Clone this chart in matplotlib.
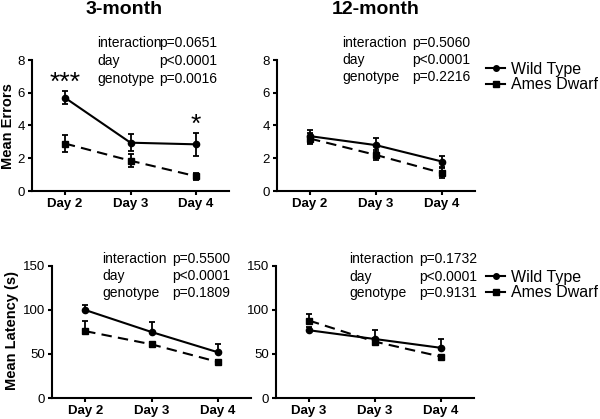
import matplotlib
matplotlib.use("Agg")
import matplotlib.pyplot as plt
from matplotlib.lines import Line2D

plt.rcParams['font.family'] = ['Liberation Sans', 'DejaVu Sans']

# ---------------- data ----------------
err_days = ["Day 2", "Day 3", "Day 4"]
lat_days_3m = ["Day 2", "Day 3", "Day 4"]
lat_days_12m = ["Day 3", "Day 3", "Day 4"]

err3_wt = [5.7, 2.95, 2.85]
err3_wt_sem = [0.4, 0.52, 0.7]
err3_ad = [2.9, 1.85, 0.9]
err3_ad_sem = [0.53, 0.4, 0.2]

err12_wt = [3.35, 2.8, 1.8]
err12_wt_sem = [0.4, 0.42, 0.35]
err12_ad = [3.2, 2.2, 1.1]
err12_ad_sem = [0.35, 0.33, 0.3]

lat3_wt = [100, 75, 52]
lat3_wt_sem = [6, 11, 9]
lat3_ad = [76, 61, 41]
lat3_ad_sem = [11, 3, 2]

lat12_wt = [77, 67, 57]
lat12_wt_sem = [4, 10, 10]
lat12_ad = [88, 64, 47]
lat12_ad_sem = [8, 4, 2]

stats_3m_err = [("interaction", "p=0.0651"), ("day", "p<0.0001"), ("genotype", "p=0.0016")]
stats_12m_err = [("interaction", "p=0.5060"), ("day", "p<0.0001"), ("genotype", "p=0.2216")]
stats_3m_lat = [("interaction", "p=0.5500"), ("day", "p<0.0001"), ("genotype", "p=0.1809")]
stats_12m_lat = [("interaction", "p=0.1732"), ("day", "p<0.0001"), ("genotype", "p=0.9131")]

sig_3m_err = ["***", "", "*"]

# ---------------- figure ----------------
W, H = 600, 419
fig = plt.figure(figsize=(W / 100, H / 100), dpi=100)


def px_axes(x0, x1, y0, y1):
    return fig.add_axes([x0 / W, 1 - y1 / H, (x1 - x0) / W, (y1 - y0) / H])


def fx(x):
    return x / W


def fy(y):
    return 1 - y / H


LW = 1.5


def style(ax, labels, ylim, yticks):
    for s in ("top", "right"):
        ax.spines[s].set_visible(False)
    for s in ("left", "bottom"):
        ax.spines[s].set_linewidth(LW)
    ax.set_xlim(-0.5, 2.5)
    ax.set_ylim(*ylim)
    ax.set_yticks(yticks)
    ax.set_xticks(range(len(labels)))
    ax.set_xticklabels(labels, fontsize=9.5, fontweight='bold')
    ax.tick_params(axis='both', length=3, width=LW, pad=2)
    ax.tick_params(axis='y', labelsize=9.5)
    ax.patch.set_alpha(0)


def plot_pair(ax, wt, wt_e, ad, ad_e, upper_only=False):
    x = list(range(len(wt)))
    if upper_only:
        wt_err = [[0] * len(wt_e), wt_e]
        ad_err = [[0] * len(ad_e), ad_e]
    else:
        wt_err = wt_e
        ad_err = ad_e
    ax.errorbar(x, ad, yerr=ad_err, color='black', lw=LW, ls=(0, (5, 3)),
                marker='s', ms=4.5, capsize=2.5, elinewidth=1.3, capthick=1.3)
    ax.errorbar(x, wt, yerr=wt_err, color='black', lw=LW, ls='-',
                marker='o', ms=4.5, capsize=2.5, elinewidth=1.3, capthick=1.3)


def stats_text(stats, xl, xr, ys):
    for (name, p), y in zip(stats, ys):
        fig.text(fx(xl), fy(y), name, fontsize=10, ha='left', va='center')
        fig.text(fx(xr), fy(y), p, fontsize=10, ha='right', va='center')


# top-left
ax1 = px_axes(32, 229, 60, 191)
plot_pair(ax1, err3_wt, err3_wt_sem, err3_ad, err3_ad_sem)
style(ax1, err_days, (0, 8), [0, 2, 4, 6, 8])
for i, s in enumerate(sig_3m_err):
    if s:
        top = err3_wt[i] + err3_wt_sem[i]
        ax1.annotate(s, (i, top), xytext=(0, -3), textcoords='offset points',
                     ha='center', va='bottom', fontsize=19)

# top-right
ax2 = px_axes(277, 475, 60, 191)
plot_pair(ax2, err12_wt, err12_wt_sem, err12_ad, err12_ad_sem)
style(ax2, err_days, (0, 8), [0, 2, 4, 6, 8])

# bottom-left
ax3 = px_axes(52, 251, 266, 398)
plot_pair(ax3, lat3_wt, lat3_wt_sem, lat3_ad, lat3_ad_sem, upper_only=True)
style(ax3, lat_days_3m, (0, 150), [0, 50, 100, 150])

# bottom-right
ax4 = px_axes(276, 474, 266, 398)
plot_pair(ax4, lat12_wt, lat12_wt_sem, lat12_ad, lat12_ad_sem, upper_only=True)
style(ax4, lat_days_12m, (0, 150), [0, 50, 100, 150])

# titles
fig.text(fx(124), fy(10), "3-month", fontsize=14, fontweight='bold', ha='center', va='center')
fig.text(fx(376), fy(10), "12-month", fontsize=14, fontweight='bold', ha='center', va='center')

# y labels
fig.text(fx(8), fy(126), "Mean Errors", fontsize=10.5, fontweight='bold',
         rotation=90, ha='center', va='center')
fig.text(fx(12), fy(330), "Mean Latency (s)", fontsize=10.5, fontweight='bold',
         rotation=90, ha='center', va='center')

# stats
stats_text(stats_3m_err, 97, 217, [43, 61, 79])
stats_text(stats_12m_err, 342, 470, [43, 60, 77])
stats_text(stats_3m_lat, 102, 230, [259, 276, 293])
stats_text(stats_12m_lat, 349, 477, [259, 277, 293])

# legends
handles = [Line2D([], [], color='black', lw=LW, marker='o', ms=4),
           Line2D([], [], color='black', lw=LW, marker='s', ms=4)]
names = ["Wild Type", "Ames Dwarf"]
for yc in (77, 285):
    fig.legend(handles, names, loc='center left', bbox_to_anchor=(fx(486), fy(yc)),
               frameon=False, fontsize=11.5, handlelength=1.2, handletextpad=0.35,
               borderpad=0, borderaxespad=0, labelspacing=0.05)

fig.savefig("out.png", dpi=100)
